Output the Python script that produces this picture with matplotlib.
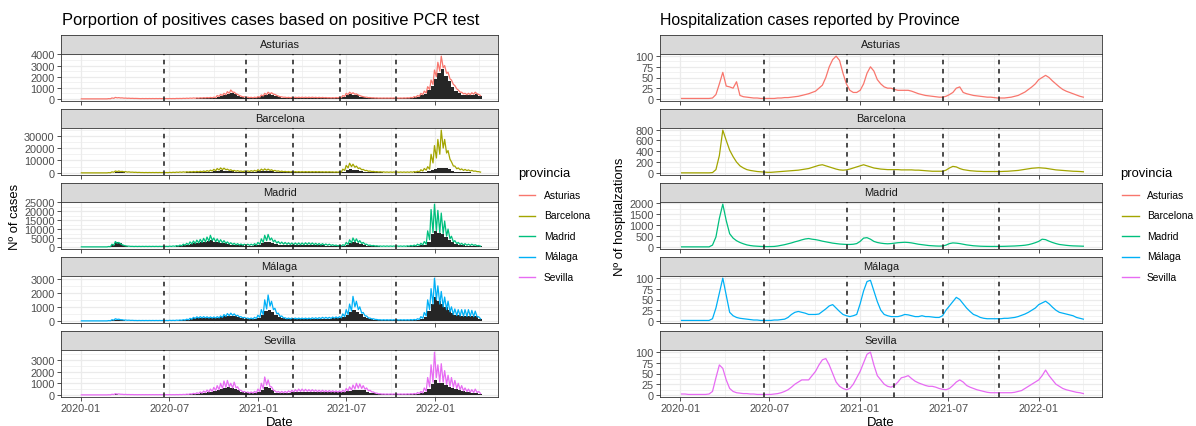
import numpy as np
import matplotlib
matplotlib.use("Agg")
import matplotlib.pyplot as plt
from matplotlib.lines import Line2D

plt.rcParams['font.family'] = ['Liberation Sans', 'DejaVu Sans']

# ---------------- data (weekly readings, starting 2020-01-01) ----------------
provinces = ["Asturias", "Barcelona", "Madrid", "Málaga", "Sevilla"]
colors = ["#F8766D", "#A3A500", "#00BF7D", "#00B0F6", "#E76BF3"]
start_date = "2020-01-01"
n_weeks = 118
x_tick_labels = ["2020-01", "2020-07", "2021-01", "2021-07", "2022-01"]
event_dates = ["2020-06-20", "2020-12-06", "2021-03-13", "2021-06-19", "2021-10-12"]

# total positive cases: weekday highs / weekend lows
asturias_cases_hi = [0,0,0,0,0,0,0,0,20,80,130,110,90,
                     70,60,50,40,30,30,30,30,30,30,30,30,30,
                     30,30,40,40,50,60,70,80,90,100,110,120,130,
                     150,300,400,500,650,800,600,400,250,180,150,140,150,
                     200,350,500,600,550,400,250,180,150,140,140,150,150,
                     150,150,150,150,140,140,130,120,110,110,120,150,300,
                     500,600,550,450,300,200,150,120,100,90,80,80,80,
                     80,80,80,80,90,100,130,200,300,500,700,1100,1700,
                     2600,3300,3850,3000,2400,1700,1200,800,600,500,500,550,600,
                     400]
asturias_cases_lo = [0,0,0,0,0,0,0,0,10,50,90,80,60,
                     50,40,35,30,20,20,20,20,20,20,20,20,20,
                     20,20,30,30,35,40,50,55,60,70,80,90,100,
                     110,220,300,380,500,600,450,300,180,130,110,100,110,
                     150,260,380,450,420,300,190,140,110,100,100,110,110,
                     110,110,110,110,100,100,100,90,80,80,90,110,220,
                     380,460,420,340,230,150,110,90,70,60,60,60,60,
                     60,60,60,60,65,75,100,150,230,380,530,850,1300,
                     2000,2500,2800,2300,1800,1300,900,600,450,380,380,420,450,
                     300]
barcelona_cases_hi = [0,0,0,0,0,0,0,0,200,800,1500,1500,1200,
                      1000,800,600,500,400,300,300,300,300,300,300,300,300,
                      400,500,600,700,800,900,1000,1100,1200,1300,1500,1800,2200,
                      2800,3500,4000,3800,3000,2500,2000,1800,1500,1500,1600,1800,2000,
                      2500,3000,3200,3000,2500,2000,1600,1400,1200,1100,1000,1000,1000,
                      1000,1000,1000,1000,1000,1000,900,900,900,800,800,900,3000,
                      6000,7800,7000,5500,4000,2800,2000,1500,1200,1000,900,800,700,
                      700,700,700,700,700,700,800,1000,1300,2500,3500,5000,15000,
                      22000,27000,34500,27000,18000,9000,5500,4000,3200,2800,2400,2000,1500,
                      1000]
barcelona_cases_lo = [0,0,0,0,0,0,0,0,100,500,1000,1000,800,
                      600,500,400,300,250,200,200,200,200,200,200,200,200,
                      250,300,400,450,500,600,650,700,800,850,1000,1200,1500,
                      1800,2300,2600,2500,2000,1600,1300,1200,1000,1000,1100,1200,1300,
                      1600,2000,2100,2000,1600,1300,1000,900,800,700,650,650,650,
                      650,650,650,650,650,650,600,600,600,500,500,600,2000,
                      4000,5000,4500,3500,2500,1800,1300,1000,800,650,600,500,450,
                      450,450,450,450,450,450,500,650,850,1500,2200,3000,8000,
                      12000,15000,20000,16000,11000,5500,3300,2500,2000,1800,1500,1300,1000,
                      600]
madrid_cases_hi = [0,0,0,0,0,0,0,0,200,1500,3000,2500,1200,
                   600,400,300,300,300,300,300,300,300,300,300,300,300,
                   400,500,700,1000,1500,2000,2800,3300,3800,4200,4800,5500,6500,
                   5000,4500,4000,3500,2800,2300,2000,1800,1600,1500,1500,1500,1800,
                   2500,4500,6500,7000,5000,3800,3000,2700,2500,2300,2200,2200,2200,
                   2200,2300,2300,2200,2000,1900,1800,1600,1500,1200,1000,900,1200,
                   2500,4000,5000,4500,3500,2500,1500,1000,800,600,500,500,500,
                   500,500,500,500,500,600,800,1000,1500,2000,3000,9000,21000,
                   24000,20500,19000,14500,10000,6000,3500,2500,2000,1800,1500,1500,1200,
                   800]
madrid_cases_lo = [0,0,0,0,0,0,0,0,100,900,2000,1700,800,
                   400,250,200,200,200,200,200,200,200,200,200,200,200,
                   250,300,400,600,900,1200,1600,1900,2200,2500,2800,3200,3600,
                   2900,2600,2300,2000,1600,1300,1100,1000,900,850,850,850,1000,
                   1400,2500,3500,3800,2800,2100,1700,1500,1400,1300,1200,1200,1200,
                   1200,1300,1300,1200,1100,1000,1000,900,800,700,550,500,700,
                   1400,2200,2800,2500,1900,1400,800,550,450,350,300,300,300,
                   300,300,300,300,300,350,450,550,800,1100,1500,4000,8000,
                   9000,8000,7500,6000,4500,2800,1800,1300,1000,900,800,800,600,
                   400]
malaga_cases_hi = [0,0,0,0,0,0,0,0,20,80,150,120,80,
                   60,50,40,30,30,30,30,30,30,30,30,30,30,
                   40,40,50,60,80,120,180,250,290,300,300,290,280,
                   280,300,350,450,520,550,500,400,300,250,200,200,250,
                   400,800,1500,1850,1400,900,550,350,220,200,200,200,200,
                   200,200,200,220,220,230,250,250,250,270,280,300,500,
                   800,1200,1750,1400,1000,600,350,200,150,100,80,80,80,
                   80,80,80,80,80,80,90,100,150,300,600,1500,2300,
                   3050,2500,2100,1700,1400,1000,850,800,800,800,800,750,700,
                   300]
malaga_cases_lo = [0,0,0,0,0,0,0,0,10,50,100,80,50,
                   40,30,25,20,20,20,20,20,20,20,20,20,20,
                   25,25,35,40,55,80,120,170,200,210,210,200,200,
                   200,210,250,320,370,390,350,280,210,170,140,140,170,
                   250,450,850,1050,800,500,300,200,150,140,140,140,140,
                   140,140,140,150,150,160,170,170,170,190,200,210,300,
                   450,700,1000,800,550,350,200,130,100,70,55,55,55,
                   55,55,55,55,55,55,60,70,100,180,350,800,1200,
                   1500,1200,1000,800,650,450,380,350,330,320,320,300,280,
                   150]
sevilla_cases_hi = [0,0,0,0,0,0,0,0,10,50,100,80,50,
                    40,30,25,20,20,20,20,20,20,20,20,20,20,
                    20,20,25,30,40,60,90,130,180,250,330,420,500,
                    650,800,1000,1200,1250,1000,1100,700,400,300,250,250,300,
                    500,1000,1550,1300,700,350,300,300,300,350,400,450,500,
                    500,480,450,450,420,400,400,380,380,360,350,350,400,
                    550,700,850,1000,950,800,600,400,250,150,100,80,80,
                    80,80,80,80,80,90,100,120,200,300,600,1500,2600,
                    3700,2600,2700,2100,1700,1500,1250,1000,800,600,500,450,500,
                    300]
sevilla_cases_lo = [0,0,0,0,0,0,0,0,5,30,60,50,30,
                    25,20,15,12,12,12,12,12,12,12,12,12,12,
                    12,12,15,20,25,40,60,80,110,150,200,250,300,
                    380,450,550,650,700,600,600,400,250,180,150,150,180,
                    280,550,850,700,400,220,180,180,180,220,250,280,300,
                    300,300,290,290,270,260,260,250,250,240,230,230,260,
                    350,420,500,580,550,480,350,250,150,90,60,50,50,
                    50,50,50,50,50,55,60,70,110,170,320,700,1100,
                    1500,1100,1100,900,750,650,550,450,350,280,230,200,200,
                    120]

# positives detected by PCR (black bars)
asturias_pcr = [0,0,0,0,0,0,0,0,0,10,20,20,10,
                5,5,0,0,0,0,0,0,0,0,0,0,0,
                0,0,10,10,20,20,30,30,40,40,50,50,60,
                80,200,300,350,450,550,420,280,170,120,100,90,100,
                140,250,350,420,380,280,170,120,100,90,90,100,100,
                100,100,100,100,90,90,90,80,70,70,80,100,200,
                350,420,380,310,200,130,90,70,50,40,40,40,40,
                40,40,40,40,50,60,80,130,200,330,480,780,1200,
                1800,2300,2700,2100,1600,1100,750,500,380,330,330,380,400,
                250]
barcelona_pcr = [0,0,0,0,0,0,0,0,50,200,400,400,300,
                 200,150,100,80,60,50,50,50,50,50,50,50,50,
                 80,100,150,200,250,300,350,400,450,500,600,700,900,
                 1200,1600,2000,1900,1500,1200,900,800,700,700,800,900,1000,
                 1300,1600,1800,1600,1300,1000,800,700,600,550,500,500,500,
                 500,500,500,500,500,500,450,450,450,400,400,450,1000,
                 2200,2800,2500,2000,1500,1000,700,500,400,350,300,250,200,
                 200,200,200,200,200,200,250,300,400,700,1000,1500,2500,
                 3500,4000,4200,3800,2800,1500,900,600,450,350,300,250,200,
                 100]
madrid_pcr = [0,0,0,0,0,0,0,0,150,1200,2500,2000,900,
              400,200,100,100,100,100,100,100,100,100,100,100,100,
              150,200,300,500,800,1200,1600,1900,2200,2500,2800,3200,3800,
              3000,2600,2200,1900,1500,1200,1000,900,800,750,750,750,900,
              1300,2000,2800,3000,2200,1700,1300,1200,1100,1000,1000,1000,1000,
              1000,1000,1000,950,900,850,800,700,650,550,450,400,600,
              1200,2000,2500,2200,1600,1100,600,400,300,250,200,200,200,
              200,200,200,200,200,250,300,400,600,800,1200,3000,7000,
              9000,8000,7000,5500,4000,2500,1500,1000,800,700,600,600,500,
              300]
malaga_pcr = [0,0,0,0,0,0,0,0,5,30,60,50,30,
              20,15,10,10,10,10,10,10,10,10,10,10,10,
              15,15,25,30,40,70,120,180,220,230,230,220,220,
              220,230,260,320,350,370,330,260,200,160,130,130,150,
              220,400,700,800,650,420,260,180,130,120,120,120,120,
              120,120,120,130,130,140,150,150,150,170,180,190,280,
              450,650,800,650,480,300,180,110,80,55,45,45,45,
              45,45,45,45,45,45,50,60,90,160,300,700,1200,
              1700,1400,1200,1000,800,550,450,400,380,380,380,360,340,
              150]
sevilla_pcr = [0,0,0,0,0,0,0,0,5,20,40,30,20,
               10,10,5,5,5,5,5,5,5,5,5,5,5,
               5,5,10,15,20,35,50,70,100,140,180,230,280,
               360,430,520,620,700,600,550,380,230,160,130,130,160,
               250,450,700,600,380,200,160,160,160,200,220,250,270,
               270,270,260,260,250,240,240,230,230,220,210,210,240,
               300,350,400,450,430,380,280,200,120,70,50,40,40,
               40,40,40,40,40,45,50,60,90,130,250,550,900,
               1300,1000,1000,850,700,600,500,400,320,260,220,200,200,
               100]

# hospitalizations
asturias_hosp = [1,1,1,1,1,1,1,1,1,2,10,35,62,
                 30,28,25,40,8,5,4,3,2,2,1,1,1,
                 1,1,2,2,3,3,4,5,6,8,10,12,15,
                 18,25,32,50,75,92,100,90,60,35,20,15,15,
                 20,35,60,75,65,45,35,28,25,25,22,20,20,
                 20,20,18,15,12,10,8,7,6,5,4,4,6,
                 10,15,25,28,15,12,10,8,7,6,5,4,4,
                 3,2,2,2,3,4,6,8,12,16,22,28,35,
                 45,50,55,50,42,35,28,22,18,15,12,9,6,
                 4]
barcelona_hosp = [0,0,0,0,0,0,0,0,0,5,60,320,790,
                  600,420,300,200,130,90,60,45,35,25,20,15,10,
                  10,15,20,25,30,35,40,45,50,60,70,80,100,
                  120,140,150,130,110,90,70,55,50,55,70,90,110,
                  130,150,130,110,90,80,70,65,60,60,60,60,55,
                  55,55,55,50,50,45,40,35,30,30,30,30,50,
                  90,120,110,80,60,50,40,35,30,28,25,25,25,
                  25,25,25,28,30,35,40,45,55,65,75,85,90,
                  95,90,85,75,65,55,50,45,40,35,30,28,25,
                  20]
madrid_hosp = [0,0,0,0,0,0,0,0,0,80,450,1300,1950,
               1200,600,400,280,200,140,90,60,40,30,20,15,12,
               15,20,40,70,100,140,180,230,270,320,360,380,350,
               330,300,260,230,200,170,150,130,120,110,110,120,150,
               250,400,420,350,250,200,170,150,140,150,170,190,200,
               210,200,180,150,120,100,80,60,50,40,35,40,80,
               150,180,170,150,120,90,70,50,40,30,25,22,20,
               20,20,22,25,30,35,40,50,60,75,100,140,190,
               250,350,330,260,200,150,110,90,70,55,45,40,35,
               30]
malaga_hosp = [1,1,1,1,1,1,1,1,1,5,30,65,100,
               60,20,12,8,6,5,4,3,2,2,1,1,1,
               1,2,2,3,4,8,15,20,22,20,18,15,15,
               15,16,22,28,35,38,30,22,15,12,10,12,15,
               40,70,92,95,70,45,25,15,12,10,10,10,12,
               15,14,12,10,10,12,10,10,9,8,8,12,25,
               35,45,55,50,40,30,22,15,12,8,6,5,5,
               5,5,5,6,6,7,8,10,13,16,20,25,30,
               38,42,46,40,32,25,20,18,16,14,12,8,6,
               4]
sevilla_hosp = [2,2,1,1,1,1,1,1,2,8,40,70,62,
                35,15,8,5,4,3,3,2,2,1,1,1,1,
                1,2,3,5,8,12,18,25,30,35,35,35,45,
                55,70,82,85,70,50,30,20,15,12,15,25,40,
                55,75,95,100,70,45,35,25,20,18,22,30,40,
                42,45,38,32,28,25,22,20,20,18,15,13,12,
                15,22,30,35,30,22,18,15,12,10,8,6,5,
                5,5,5,5,5,5,6,8,10,15,20,25,30,
                35,45,58,45,35,25,20,15,12,10,8,6,5,
                3]

cases_hi = [asturias_cases_hi, barcelona_cases_hi, madrid_cases_hi, malaga_cases_hi, sevilla_cases_hi]
cases_lo = [asturias_cases_lo, barcelona_cases_lo, madrid_cases_lo, malaga_cases_lo, sevilla_cases_lo]
pcr = [asturias_pcr, barcelona_pcr, madrid_pcr, malaga_pcr, sevilla_pcr]
hosp = [asturias_hosp, barcelona_hosp, madrid_hosp, malaga_hosp, sevilla_hosp]
case_steps = [1000, 10000, 5000, 1000, 1000]
hosp_steps = [25, 200, 500, 25, 25]

# ---------------- figure ----------------
W, H = 1196, 427
fig = plt.figure(figsize=(W / 100, H / 100), dpi=100)
fig.patch.set_facecolor("white")


def px_axes(x0, y0, x1, y1):
    return fig.add_axes([x0 / W, 1 - y1 / H, (x1 - x0) / W, (y1 - y0) / H])


week_dates = np.datetime64(start_date) + np.arange(n_weeks) * np.timedelta64(7, "D")
hi_dates = week_dates + np.timedelta64(1, "D")
lo_dates = week_dates + np.timedelta64(5, "D")
zig_dates = np.empty(2 * n_weeks, dtype="datetime64[D]")
zig_dates[0::2] = hi_dates
zig_dates[1::2] = lo_dates

span = (week_dates[-1] - week_dates[0]).astype(int)
pad = np.timedelta64(int(round(span * 0.05)), "D")
xlim = (week_dates[0] - pad, week_dates[-1] + pad)
major_x = np.array([np.datetime64(s + "-01") for s in x_tick_labels])
minor_x = np.array([np.datetime64(d) for d in ["2019-10-01", "2020-04-01", "2020-10-01",
                                                  "2021-04-01", "2021-10-01", "2022-04-01"]])
events = np.array([np.datetime64(d) for d in event_dates])

GRID = "#EBEBEB"
BORDER = "#333333"
SMALL = 7.9
LEGEND_TXT = 7.4


def style_panel(ax, ymax, step, bottom):
    ax.set_xlim(xlim)
    ax.set_ylim(-0.05 * ymax, 1.05 * ymax)
    yt = np.arange(0, 1.05 * ymax + 1e-9, step)
    ax.set_yticks(yt)
    ax.set_yticklabels([f"{int(v)}" for v in yt])
    ymin_minor = yt[:-1] + step / 2
    if yt[-1] + step / 2 < 1.05 * ymax:
        ymin_minor = np.append(ymin_minor, yt[-1] + step / 2)
    for v in ymin_minor:
        ax.axhline(v, color=GRID, lw=0.45, zorder=0)
    for v in yt:
        ax.axhline(v, color=GRID, lw=0.9, zorder=0)
    for d in minor_x:
        ax.axvline(d, color=GRID, lw=0.45, zorder=0)
    for d in major_x:
        ax.axvline(d, color=GRID, lw=0.9, zorder=0)
    ax.set_xticks(major_x)
    if bottom:
        ax.set_xticklabels(x_tick_labels)
    else:
        ax.set_xticklabels([])
        ax.tick_params(axis="x", length=0)
    ax.tick_params(axis="both", labelsize=SMALL, labelcolor="#4D4D4D", color=BORDER,
                   width=0.6, length=3, pad=1.5)
    for s in ax.spines.values():
        s.set_color(BORDER)
        s.set_linewidth(0.6)
    for d in events:
        ax.axvline(d, color="#1a1a1a", lw=1.1, ls=(0, (3, 3)), zorder=4)


def strip(x0, x1, top, name):
    s = px_axes(x0, top, x1, top + 19)
    s.set_facecolor("#D9D9D9")
    s.set_xticks([])
    s.set_yticks([])
    for sp in s.spines.values():
        sp.set_color(BORDER)
        sp.set_linewidth(0.6)
    s.text(0.5, 0.5, name, ha="center", va="center", fontsize=SMALL, color="#1A1A1A",
           transform=s.transAxes)


LX0, LX1 = 61, 498
RX0, RX1 = 660, 1102
for k, name in enumerate(provinces):
    top = 36 + 74 * k
    bottom = k == len(provinces) - 1
    # left: positive cases
    strip(LX0, LX1, top, name)
    ax = px_axes(LX0, top + 19, LX1, top + 66)
    hi = np.array(cases_hi[k], dtype=float)
    lo = np.array(cases_lo[k], dtype=float)
    zig = np.empty(2 * n_weeks)
    zig[0::2] = hi
    zig[1::2] = lo
    ax.bar(week_dates, pcr[k], width=7, align="edge", color="#262626", lw=0, zorder=2)
    ax.plot(zig_dates, zig, color=colors[k], lw=0.9, zorder=3)
    ymax = max(hi.max(), max(pcr[k]))
    style_panel(ax, ymax, case_steps[k], bottom)

    # right: hospitalizations
    strip(RX0, RX1, top, name)
    ax2 = px_axes(RX0, top + 19, RX1, top + 66)
    ax2.plot(week_dates + np.timedelta64(3, "D"), hosp[k], color=colors[k], lw=0.9, zorder=3)
    style_panel(ax2, max(hosp[k]), hosp_steps[k], bottom)

# titles and axis titles
fig.text(62 / W, 1 - 20 / H, "Porportion of positives cases based on positive PCR test",
         fontsize=11.9, va="center", ha="left", color="black")
fig.text(660 / W, 1 - 20 / H, "Hospitalization cases reported by Province",
         fontsize=11.4, va="center", ha="left", color="black")
fig.text(15 / W, 1 - 217 / H, "Nº of cases", rotation=90, fontsize=9.4, va="center", ha="center")
fig.text(620 / W, 1 - 217 / H, "Nº of hospitalzations", rotation=90, fontsize=9.4,
         va="center", ha="center")
fig.text((LX0 + LX1) / 2 / W, 1 - 423 / H, "Date", fontsize=9.4, va="center", ha="center")
fig.text((RX0 + RX1) / 2 / W, 1 - 423 / H, "Date", fontsize=9.4, va="center", ha="center")

# legends
legend_rows = [196, 216.5, 237, 257.5, 278]
for (tx, kx0, kx1, lx) in [(518, 519, 535, 544), (1120, 1122, 1139, 1147)]:
    fig.text(tx / W, 1 - 174 / H, "provincia", fontsize=9.4, va="center", ha="left")
    for name, c, yy in zip(provinces, colors, legend_rows):
        fig.add_artist(Line2D([kx0 / W, kx1 / W], [1 - yy / H, 1 - yy / H],
                              transform=fig.transFigure, color=c, lw=1.0))
        fig.text(lx / W, 1 - yy / H, name, fontsize=LEGEND_TXT, va="center", ha="left")

fig.savefig("out.png", dpi=100)
